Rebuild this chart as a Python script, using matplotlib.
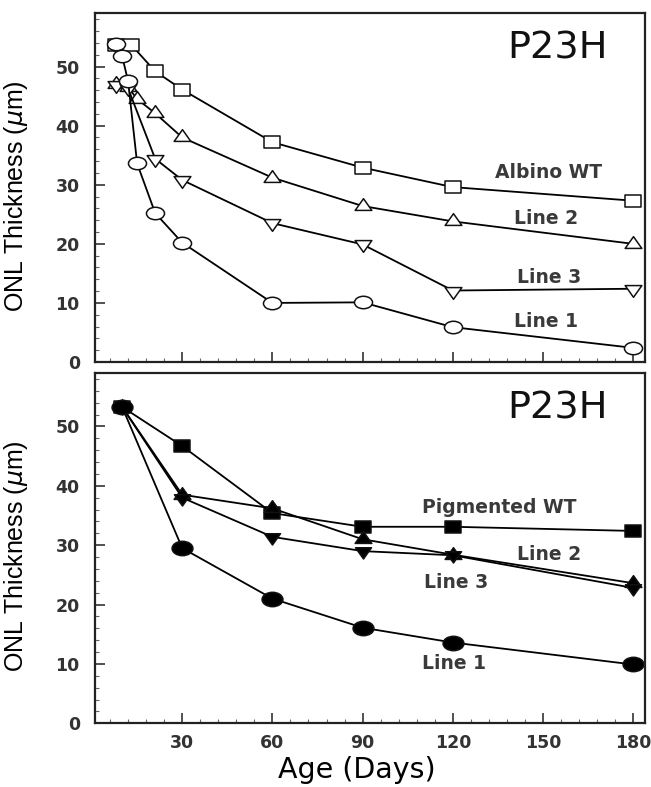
import matplotlib
matplotlib.use('Agg')
import matplotlib.pyplot as plt
from matplotlib.ticker import MultipleLocator
from matplotlib.path import Path
from matplotlib.transforms import Affine2D

plt.rcParams['font.family'] = ['DejaVu Sans']

# top panel (albino P23H), open symbols
albino_wt_days = [8, 13, 21, 30, 60, 90, 120, 180]
albino_wt_onl = [53.7, 53.7, 49.2, 46.1, 37.2, 32.9, 29.6, 27.3]
albino_l2_days = [8, 12, 15, 21, 30, 60, 90, 120, 180]
albino_l2_onl = [47.0, 46.5, 44.5, 42.1, 38.0, 31.2, 26.4, 23.8, 20.0]
albino_l3_days = [8, 12, 21, 30, 60, 90, 120, 180]
albino_l3_onl = [46.8, 46.3, 34.4, 30.8, 23.5, 19.9, 12.1, 12.4]
albino_l1_days = [8, 10, 12, 15, 21, 30, 60, 90, 120, 180]
albino_l1_onl = [53.8, 51.8, 47.5, 33.6, 25.2, 20.2, 10.0, 10.1, 5.9, 2.4]

# bottom panel (pigmented P23H), filled symbols
pig_days = [10, 30, 60, 90, 120, 180]
pig_wt_onl = [53.3, 46.7, 35.4, 33.1, 33.1, 32.4]
pig_l2_onl = [53.3, 38.5, 36.2, 31.0, 28.4, 23.6]
pig_l3_onl = [53.3, 38.0, 31.4, 29.0, 28.3, 22.8]
pig_l1_onl = [53.3, 29.5, 21.0, 16.1, 13.6, 9.9]

top_labels = [('Albino WT', 152.0, 32.0), ('Line 2', 151.0, 24.3),
              ('Line 3', 152.0, 14.3), ('Line 1', 151.0, 6.8)]
bottom_labels = [('Pigmented WT', 135.5, 36.4), ('Line 2', 152.0, 28.5),
                 ('Line 3', 121.0, 23.7), ('Line 1', 120.5, 10.1)]


# the source figure is stretched sideways, so the symbols are too
def wide(path, sx, sy=1.0):
    return Affine2D().scale(sx, sy).transform_path(path)


square = Path([(-1, -1), (1, -1), (1, 1), (-1, 1), (-1, -1)], closed=True)
circle_m = wide(Path.unit_circle(), 1.45)
square_m = wide(square, 1.3)
up_m = wide(Path.unit_regular_polygon(3), 1.23)
down_m = wide(Path.unit_regular_polygon(3), 1.23, -1.0)

fig = plt.figure(figsize=(6.51, 7.87), dpi=100)
ax_top = fig.add_axes([0.146, 0.540, 0.845, 0.443])
ax_bot = fig.add_axes([0.146, 0.081, 0.845, 0.445])

line_kw = dict(color='black', lw=1.3, markeredgewidth=1.1, markeredgecolor='#111111')

ax_top.plot(albino_wt_days, albino_wt_onl, marker=square_m, ms=11.5, mfc='white', **line_kw)
ax_top.plot(albino_l2_days, albino_l2_onl, marker=up_m, ms=12, mfc='white', **line_kw)
ax_top.plot(albino_l3_days, albino_l3_onl, marker=down_m, ms=12, mfc='white', **line_kw)
ax_top.plot(albino_l1_days, albino_l1_onl, marker=circle_m, ms=13, mfc='white', **line_kw)

ax_bot.plot(pig_days, pig_wt_onl, marker=square_m, ms=12, mfc='black', **line_kw)
ax_bot.plot(pig_days, pig_l2_onl, marker=up_m, ms=12, mfc='black', **line_kw)
ax_bot.plot(pig_days, pig_l3_onl, marker=down_m, ms=11.5, mfc='black', **line_kw)
ax_bot.plot(pig_days, pig_l1_onl, marker=circle_m, ms=15, mfc='black', **line_kw)

for ax, labels in [(ax_top, top_labels), (ax_bot, bottom_labels)]:
    ax.set_xlim(1, 184)
    ax.set_ylim(0, 59)
    ax.xaxis.set_major_locator(MultipleLocator(30))
    ax.xaxis.set_minor_locator(MultipleLocator(6))
    ax.yaxis.set_major_locator(MultipleLocator(10))
    ax.yaxis.set_minor_locator(MultipleLocator(2))
    ax.tick_params(which='major', direction='in', length=7, width=1.2, labelsize=12.5,
                   colors='#333333')
    ax.tick_params(axis='y', which='major', pad=11)
    ax.tick_params(axis='x', which='major', pad=8)
    ax.tick_params(which='minor', direction='in', length=3, width=0.8, color='#666666')
    for lab in ax.get_yticklabels():
        lab.set_fontweight('bold')
    for sp in ax.spines.values():
        sp.set_linewidth(1.6)
        sp.set_color('#222222')
    ax.set_ylabel('ONL Thickness ($\\mu$m)', fontsize=18, family='Liberation Sans')
    ax.yaxis.set_label_coords(-0.118, 0.477)
    ax.text(154.7, 53.0, 'P23H', fontsize=27.5, ha='center', va='center', color='#111111')
    for text, x, y in labels:
        ax.text(x, y, text, fontsize=13.5, fontweight='semibold', ha='center', va='center',
                color='#3a3a3a')

ax_top.tick_params(labelbottom=False)
ax_bot.set_xticks([30, 60, 90, 120, 150, 180])
for lab in ax_bot.get_xticklabels():
    lab.set_fontweight('bold')
ax_bot.set_xlabel('Age (Days)', fontsize=20.5)
ax_bot.xaxis.set_label_coords(0.476, -0.134)
ax_bot.xaxis.label.set_va('center')

fig.savefig('out.png', dpi=100)
